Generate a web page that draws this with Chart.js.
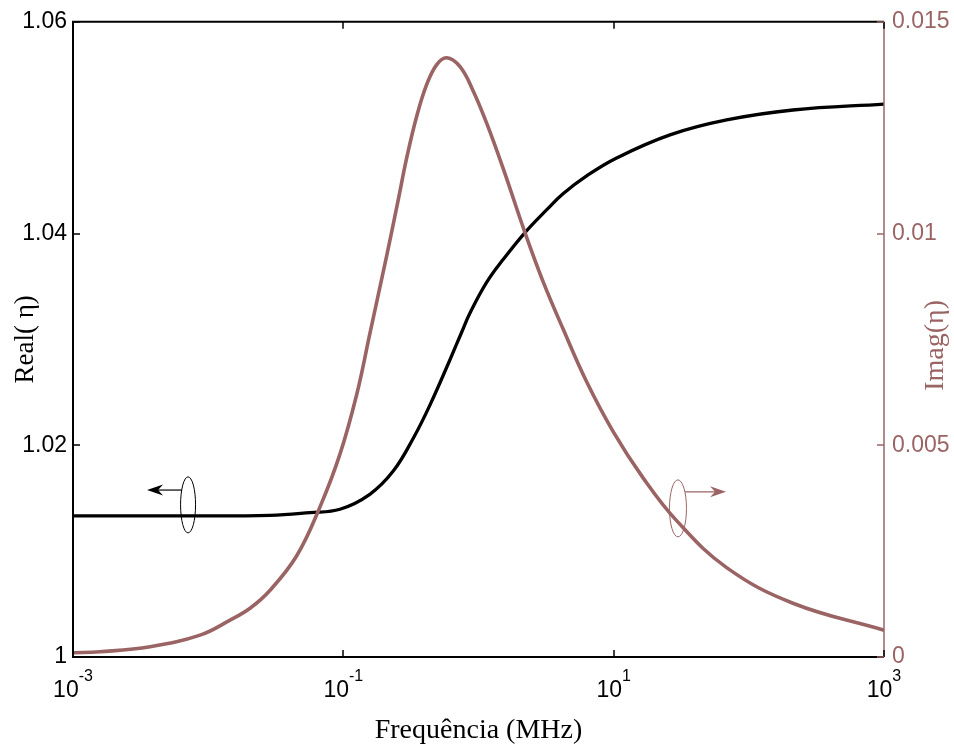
<!DOCTYPE html>
<html>
<head>
<meta charset="utf-8">
<script src="https://cdn.jsdelivr.net/npm/chart.js@4/dist/chart.umd.min.js"></script>
<style>
  html, body { margin: 0; padding: 0; background: #ffffff; }
  canvas { display: block; }
</style>
</head>
<body>
<canvas id="c" width="954" height="747"></canvas>
<script>
// Frequency sweep (MHz) and the real / imaginary parts of eta
const realFreq = [0.001, 0.005, 0.0286, 0.0566, 0.0944, 0.157, 0.234, 0.33, 0.438, 0.615, 0.752, 0.865, 1.151, 1.525, 2.208, 3.2, 4.22, 6.31, 10.52, 26.1, 68.5, 212, 1000];
const realValues = [1.01333, 1.01333, 1.01337, 1.01364, 1.01396, 1.01537, 1.01756, 1.02069, 1.02382, 1.02808, 1.0307, 1.03249, 1.0354, 1.03756, 1.04009, 1.04225, 1.04376, 1.04545, 1.04714, 1.04932, 1.05073, 1.05167, 1.05223];

const imagFreq = [0.001, 0.00158, 0.00372, 0.00871, 0.01452, 0.0204, 0.0286, 0.0452, 0.0671, 0.0944, 0.1256, 0.157, 0.2094, 0.255, 0.294, 0.349, 0.414, 0.491, 0.582, 0.73, 0.91, 1.151, 1.517, 2.208, 3.0, 4.22, 6.31, 9.89, 16.5, 29.2, 68.5, 212, 1000];
const imagValues = [0.000101, 0.000124, 0.000242, 0.000516, 0.00087, 0.00115, 0.00157, 0.00239, 0.00354, 0.00479, 0.0062, 0.00763, 0.00948, 0.0108, 0.01178, 0.01277, 0.01352, 0.01399, 0.01415, 0.01394, 0.01338, 0.0126, 0.01155, 0.01002, 0.00887, 0.00775, 0.0065, 0.00533, 0.00423, 0.00322, 0.00211, 0.00127, 0.000634];

// Axis ticks and labels
const xTickValues = [1e-3, 1e-1, 1e1, 1e3];
const xTickExponents = ['-3', '-1', '1', '3'];
const leftTickValues = [1, 1.02, 1.04, 1.06];
const leftTickLabels = ['1', '1.02', '1.04', '1.06'];
const rightTickValues = [0, 0.005, 0.01, 0.015];
const rightTickLabels = ['0', '0.005', '0.01', '0.015'];

const xTitle = 'Frequência (MHz)';
const leftTitle = 'Real( η)';
const rightTitle = 'Imag(η)';

// Curve markers: which axis each series belongs to
const leftMarker = { freq: 0.0071, value: 1.01437, arrowFreq: 0.00353, arrowValue: 1.01577 };
const rightMarker = { freq: 29.9, value: 0.00351, arrowFreq: 67.8, arrowValue: 0.0039 };

const BLACK = '#000000';
const BROWN = '#9b6464';
const SANS = "'Liberation Sans', Arial, sans-serif";
const SERIF = "'Liberation Serif', 'Times New Roman', serif";

function toPoints(xs, ys) { return xs.map((x, i) => ({ x: x, y: ys[i] })); }

function drawArrow(ctx, x0, y0, x1, y1, color) {
  const dir = Math.sign(x1 - x0);
  ctx.strokeStyle = color; ctx.fillStyle = color; ctx.lineWidth = 1.2;
  ctx.beginPath(); ctx.moveTo(x0, y0); ctx.lineTo(x1 - dir * 10, y1); ctx.stroke();
  ctx.beginPath();
  ctx.moveTo(x1, y1);
  ctx.lineTo(x1 - dir * 16, y1 - 5.5);
  ctx.lineTo(x1 - dir * 11, y1);
  ctx.lineTo(x1 - dir * 16, y1 + 5.5);
  ctx.closePath(); ctx.fill();
}

const decorations = {
  id: 'decorations',
  afterDraw(chart) {
    const ctx = chart.ctx;
    const a = chart.chartArea;
    const xs = chart.scales.x, yl = chart.scales.y, yr = chart.scales.y2;
    ctx.save();

    // frame
    ctx.lineWidth = 2;
    ctx.strokeStyle = BLACK;
    ctx.beginPath();
    ctx.moveTo(a.right, a.top); ctx.lineTo(a.left, a.top);
    ctx.lineTo(a.left, a.bottom); ctx.lineTo(a.right, a.bottom);
    ctx.stroke();
    ctx.strokeStyle = BROWN; ctx.lineWidth = 1.5;
    ctx.beginPath(); ctx.moveTo(a.right, a.top); ctx.lineTo(a.right, a.bottom); ctx.stroke();

    // inward tick marks
    const tl = 7;
    ctx.lineWidth = 1.5; ctx.strokeStyle = BLACK;
    xTickValues.forEach(v => {
      const px = Math.round(xs.getPixelForValue(v));
      ctx.beginPath(); ctx.moveTo(px, a.bottom); ctx.lineTo(px, a.bottom - tl); ctx.stroke();
      ctx.beginPath(); ctx.moveTo(px, a.top); ctx.lineTo(px, a.top + tl); ctx.stroke();
    });
    leftTickValues.forEach(v => {
      const py = Math.round(yl.getPixelForValue(v));
      ctx.beginPath(); ctx.moveTo(a.left, py); ctx.lineTo(a.left + tl, py); ctx.stroke();
    });
    ctx.strokeStyle = BROWN;
    rightTickValues.forEach(v => {
      const py = Math.round(yr.getPixelForValue(v));
      ctx.beginPath(); ctx.moveTo(a.right, py); ctx.lineTo(a.right - tl, py); ctx.stroke();
    });

    // x tick labels: 10 with superscript exponent
    ctx.fillStyle = BLACK;
    ctx.textBaseline = 'alphabetic';
    xTickValues.forEach((v, i) => {
      const px = xs.getPixelForValue(v);
      ctx.font = '23px ' + SANS;
      const baseW = ctx.measureText('10').width;
      ctx.font = '16px ' + SANS;
      const expW = ctx.measureText(xTickExponents[i]).width;
      const start = px - (baseW + expW) / 2;
      ctx.font = '23px ' + SANS;
      ctx.textAlign = 'left';
      ctx.fillText('10', start, 697);
      ctx.font = '16px ' + SANS;
      ctx.fillText(xTickExponents[i], start + baseW, 681);
    });

    // axis titles
    ctx.font = '28px ' + SERIF;
    ctx.textAlign = 'center';
    ctx.fillStyle = BLACK;
    ctx.fillText(xTitle, (a.left + a.right) / 2, 738);

    ctx.font = '27px ' + SERIF;
    ctx.textBaseline = 'middle';
    ctx.save();
    ctx.translate(26, (a.top + a.bottom) / 2);
    ctx.rotate(-Math.PI / 2);
    ctx.fillText(leftTitle, 0, 0);
    ctx.restore();

    ctx.save();
    ctx.font = '28px ' + SERIF;
    ctx.fillStyle = BROWN;
    ctx.translate(936, (a.top + a.bottom) / 2 + 6);
    ctx.rotate(-Math.PI / 2);
    ctx.fillText(rightTitle, 0, 0);
    ctx.restore();

    // series markers (ellipse around curve with arrow to its axis)
    const lx = xs.getPixelForValue(leftMarker.freq), ly = yl.getPixelForValue(leftMarker.value);
    ctx.strokeStyle = BLACK; ctx.lineWidth = 1;
    ctx.beginPath(); ctx.ellipse(lx, ly, 7.5, 28, 0, 0, Math.PI * 2); ctx.stroke();
    const lay = yl.getPixelForValue(leftMarker.arrowValue);
    drawArrow(ctx, lx - 6, lay, xs.getPixelForValue(leftMarker.arrowFreq), lay, BLACK);

    const rx = xs.getPixelForValue(rightMarker.freq), ry = yr.getPixelForValue(rightMarker.value);
    ctx.strokeStyle = BROWN; ctx.lineWidth = 1;
    ctx.beginPath(); ctx.ellipse(rx, ry, 8.5, 28.5, 0, 0, Math.PI * 2); ctx.stroke();
    const ray = yr.getPixelForValue(rightMarker.arrowValue);
    drawArrow(ctx, rx + 7, ray, xs.getPixelForValue(rightMarker.arrowFreq), ray, BROWN);

    ctx.restore();
  }
};

new Chart(document.getElementById('c'), {
  type: 'line',
  data: {
    datasets: [
      {
        label: leftTitle,
        data: toPoints(realFreq, realValues),
        yAxisID: 'y',
        order: 1,
        borderColor: BLACK,
        borderWidth: 3.3,
        pointRadius: 0,
        tension: 0.4,
        fill: false
      },
      {
        label: rightTitle,
        data: toPoints(imagFreq, imagValues),
        yAxisID: 'y2',
        order: 0,
        borderColor: BROWN,
        borderWidth: 3.6,
        pointRadius: 0,
        tension: 0.4,
        fill: false
      }
    ]
  },
  options: {
    responsive: false,
    devicePixelRatio: 1,
    animation: false,
    layout: { padding: { top: 18, left: 0, right: 0, bottom: 0 } },
    plugins: { legend: { display: false }, tooltip: { enabled: false } },
    scales: {
      x: {
        type: 'logarithmic',
        min: 1e-3, max: 1e3,
        grid: { display: false },
        border: { display: false },
        ticks: { display: false },
        afterFit(s) { s.height = 90; }
      },
      y: {
        position: 'left',
        min: 1, max: 1.06,
        grid: { display: false, drawTicks: false },
        border: { display: false },
        afterBuildTicks(s) { s.ticks = leftTickValues.map(v => ({ value: v })); },
        ticks: {
          padding: 6,
          color: BLACK,
          font: { family: SANS, size: 23 },
          callback: (v, i) => leftTickLabels[i]
        },
        afterFit(s) { s.width = 73; }
      },
      y2: {
        position: 'right',
        min: 0, max: 0.015,
        grid: { display: false, drawTicks: false },
        border: { display: false },
        afterBuildTicks(s) { s.ticks = rightTickValues.map(v => ({ value: v })); },
        ticks: {
          padding: 8,
          color: BROWN,
          font: { family: SANS, size: 23 },
          callback: (v, i) => rightTickLabels[i]
        },
        afterFit(s) { s.width = 70; }
      }
    }
  },
  plugins: [decorations]
});
</script>
</body>
</html>
